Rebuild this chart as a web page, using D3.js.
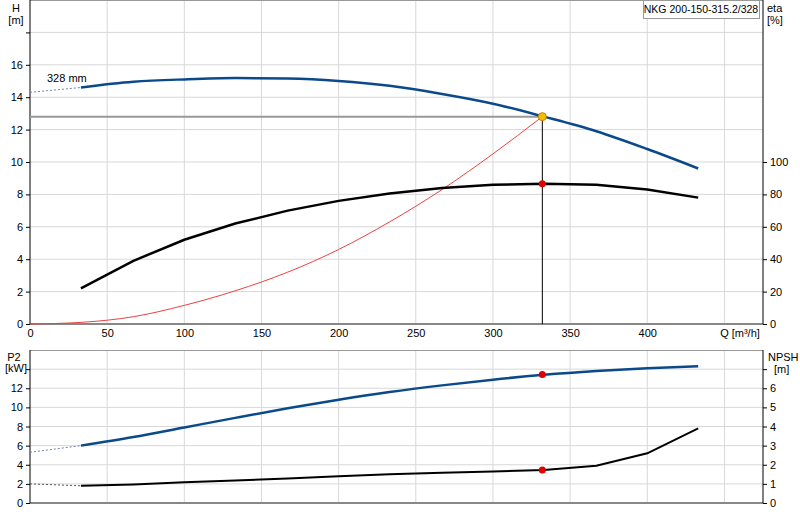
<!DOCTYPE html><html><head><meta charset="utf-8"><script src="https://d3js.org/d3.v7.min.js"></script>
<style>body{margin:0;background:#fff}text{font-family:"Liberation Sans",Arial,sans-serif;font-size:11px;fill:#000}</style></head><body><svg id="c" width="800" height="520"></svg><script>
const qTicks=[0,50,100,150,200,250,300,350,400,450];
const hQ=[33,67,100,133,167,200,233,267,300,333,367,400,433];
const hVals=[14.6,14.95,15.1,15.18,15.15,15.0,14.7,14.2,13.6,12.8,11.9,10.8,9.6];
const hExtQ=[0,33],hExt=[14.3,14.6];
const etaVals=[22,39,52,62,70,76,80.5,84,86,86.5,86,83,78];
const sysQ=[0,33,67,100,133,167,200,233,267,300,332];
const sysVals=[0,0.1,0.45,1.15,2.05,3.2,4.6,6.3,8.3,10.5,12.8];
const p2Vals=[6.0,6.9,7.9,8.9,9.9,10.8,11.6,12.3,12.9,13.4,13.8,14.1,14.3];
const p2Ext=[5.3,6.0];
const npshVals=[0.9,0.97,1.08,1.18,1.28,1.4,1.5,1.58,1.65,1.72,1.95,2.6,3.9];
const npshExt=[1.0,0.9];
const op={q:332,h:12.8,eta:86.5,p2:13.45,npsh:1.72};
const svg=d3.select("#c");
const L=30,R=763;
const x=d3.scaleLinear().domain([0,475]).range([L,R]);
const yH=d3.scaleLinear().domain([0,20]).range([324,0]);
const yE=d3.scaleLinear().domain([0,200]).range([324,0]);
const yP=d3.scaleLinear().domain([0,16]).range([503,350]);
const yN=d3.scaleLinear().domain([0,8]).range([503,350]);
const grid="#d8d8d8";
function panel(y0,y1,ys,ticks){
  qTicks.forEach(q=>{if(q>0)svg.append("line").attr("x1",x(q)).attr("x2",x(q)).attr("y1",y0).attr("y2",y1).attr("stroke",grid);});
  ticks.forEach(t=>{if(ys(t)>y0+1&&ys(t)<y1-1)svg.append("line").attr("x1",L).attr("x2",R).attr("y1",ys(t)).attr("y2",ys(t)).attr("stroke",grid);});
  svg.append("line").attr("x1",L).attr("x2",R).attr("y1",y0+0.5).attr("y2",y0+0.5).attr("stroke","#999");
  svg.append("line").attr("x1",L).attr("x2",R).attr("y1",y1).attr("y2",y1).attr("stroke","#888").attr("stroke-width",2);
  svg.append("line").attr("x1",L).attr("x2",L).attr("y1",y0).attr("y2",y1).attr("stroke","#000");
  svg.append("line").attr("x1",R).attr("x2",R).attr("y1",y0).attr("y2",y1).attr("stroke","#000");
}
panel(0,324,yH,d3.range(0,21,2));
panel(350,503,yP,d3.range(0,17,2));
// left H axis
svg.append("g").attr("transform",`translate(${L},0)`).call(d3.axisLeft(yH).tickValues(d3.range(0,17,2)).tickSize(4).tickPadding(3)).call(g=>g.select(".domain").remove());
svg.append("g").attr("transform",`translate(${L},0)`).call(d3.axisLeft(yH).tickValues([18]).tickSize(4).tickFormat("")).call(g=>g.select(".domain").remove());
svg.append("g").attr("transform",`translate(${R},0)`).call(d3.axisRight(yE).tickValues(d3.range(0,101,20)).tickSize(4).tickPadding(3)).call(g=>g.select(".domain").remove());
svg.append("g").attr("transform",`translate(0,324)`).call(d3.axisBottom(x).tickValues(qTicks.slice(0,9)).tickSize(0).tickPadding(5)).call(g=>g.select(".domain").remove());
svg.append("g").attr("transform",`translate(${L},0)`).call(d3.axisLeft(yP).tickValues(d3.range(0,13,2)).tickSize(4).tickPadding(3)).call(g=>g.select(".domain").remove());
svg.append("g").attr("transform",`translate(${L},0)`).call(d3.axisLeft(yP).tickValues([14]).tickSize(4).tickFormat("")).call(g=>g.select(".domain").remove());
svg.append("g").attr("transform",`translate(${R},0)`).call(d3.axisRight(yN).tickValues(d3.range(0,7)).tickSize(4).tickPadding(3)).call(g=>g.select(".domain").remove());
svg.append("g").attr("transform",`translate(${R},0)`).call(d3.axisRight(yN).tickValues([7]).tickSize(4).tickFormat("")).call(g=>g.select(".domain").remove());
svg.selectAll(".tick text").style("font-size","11px");
// labels
const T=(t,xx,yy,a)=>svg.append("text").attr("x",xx).attr("y",yy).attr("text-anchor",a||"middle").text(t);
T("H",16,12);T("[m]",16,24);T("eta",776,12,"start").attr("x",767);T("[%]",767,24,"start");
T("Q [m³/h]",740,337);T("P2",14,361);T("[kW]",16,372);T("NPSH",768,361,"start");T("[m]",774,373,"start");
T("328 mm",47,82,"start");
svg.append("rect").attr("x",643.5).attr("y",0.5).attr("width",116).attr("height",18).attr("fill","#fff").attr("stroke","#999");
T("NKG 200-150-315.2/328",701,13).style("font-size","10.5px");
// operating lines
svg.append("line").attr("x1",L).attr("x2",x(op.q)).attr("y1",yH(op.h)).attr("y2",yH(op.h)).attr("stroke","#999").attr("stroke-width",2);
svg.append("line").attr("x1",x(op.q)).attr("x2",x(op.q)).attr("y1",yH(op.h)).attr("y2",324).attr("stroke","#000");
const line=(xs,vs,ys)=>d3.line().x((d,i)=>x(xs[i])).y(d=>ys(d)).curve(d3.curveMonotoneX)(vs);
const P=(d,c,w,dash)=>svg.append("path").attr("d",d).attr("fill","none").attr("stroke",c).attr("stroke-width",w).attr("stroke-dasharray",dash||null);
P(line(sysQ,sysVals,yH),"#f04040",1);
P(line(hExtQ,hExt,yH),"#7080b0",1,"2,2");
P(line(hQ,hVals,yH),"#0b4a8a",2.5);
P(d3.line().x((d,i)=>x(hQ[i])).y(d=>yE(d))(etaVals),"#000",2.5);
P(line(hExtQ,p2Ext,yP),"#7080b0",1,"2,2");
P(line(hQ,p2Vals,yP),"#0b4a8a",2.5);
P(line(hExtQ,npshExt,yN),"#555",1,"2,2");
P(d3.line().x((d,i)=>x(hQ[i])).y(d=>yN(d))(npshVals),"#000",2);
const dot=(yy,c,r)=>svg.append("circle").attr("cx",x(op.q)).attr("cy",yy).attr("r",r).attr("fill",c);
dot(yH(op.h),"#f0c000",4).attr("stroke","#d08000");
dot(yE(op.eta),"#e00000",3.5);dot(yP(op.p2),"#e00000",3.5);dot(yN(op.npsh),"#e00000",3.5);
</script></body></html>
